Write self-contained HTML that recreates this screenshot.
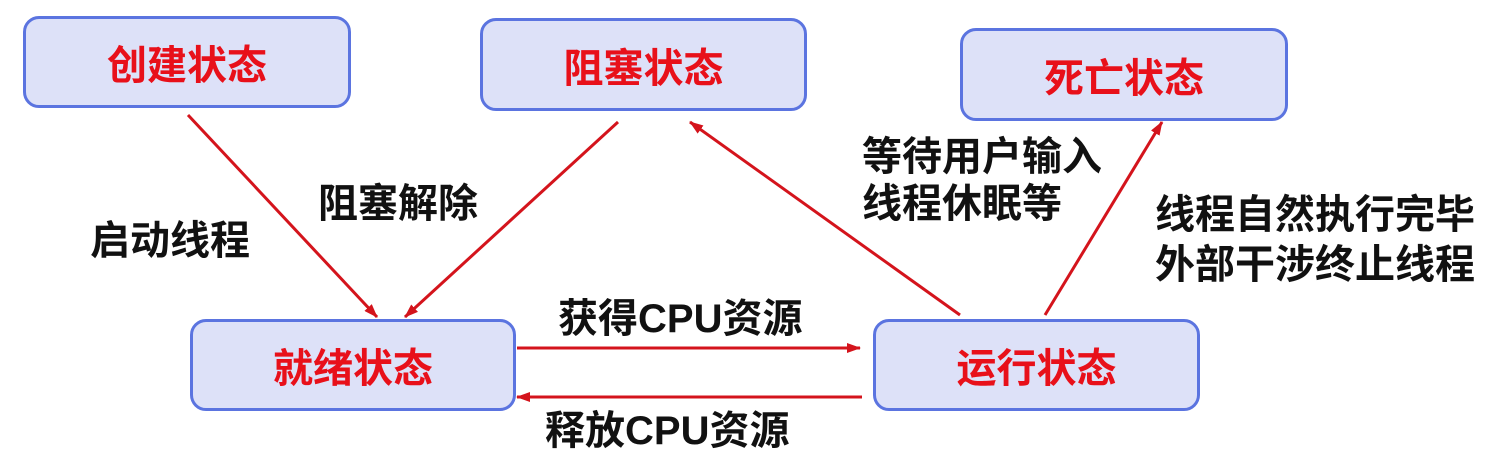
<!DOCTYPE html>
<html><head><meta charset="utf-8"><style>
body{margin:0;width:1511px;height:463px;background:#fff;position:relative;overflow:hidden;font-family:"Liberation Sans","Noto Sans CJK SC",sans-serif;}
.b{position:absolute;box-sizing:border-box;border:3px solid #5b74e0;border-radius:16px;background:#dde1f8;color:#e8101a;font-weight:bold;font-size:40px;display:flex;align-items:center;justify-content:center;}
.t{position:absolute;font-weight:bold;font-size:40px;color:#111;line-height:47px;white-space:nowrap;}
svg{position:absolute;left:0;top:0;}
</style></head><body>
<div class="b" style="left:23px;top:16px;width:328px;height:92px">创建状态</div>
<div class="b" style="left:480px;top:18px;width:327px;height:93px">阻塞状态</div>
<div class="b" style="left:960px;top:28px;width:328px;height:93px">死亡状态</div>
<div class="b" style="left:190px;top:319px;width:326px;height:92px">就绪状态</div>
<div class="b" style="left:873px;top:319px;width:327px;height:92px">运行状态</div>
<svg width="1511" height="463">
<defs><marker id="a" markerWidth="14" markerHeight="10" refX="13" refY="5" orient="auto" markerUnits="userSpaceOnUse"><path d="M0,0 L14,5 L0,10 z" fill="#d4141c"/></marker></defs>
<g stroke="#d4141c" stroke-width="3" fill="none" marker-end="url(#a)">
<line x1="188" y1="115" x2="377" y2="317"/>
<line x1="618" y1="122" x2="405" y2="317"/>
<line x1="960" y1="315" x2="690" y2="122"/>
<line x1="1045" y1="315" x2="1162" y2="122"/>
<line x1="517" y1="348" x2="860" y2="348"/>
<line x1="862" y1="397" x2="517" y2="397"/>
</g></svg>
<div class="t" style="left:90px;top:218px">启动线程</div>
<div class="t" style="left:318px;top:181px">阻塞解除</div>
<div class="t" style="left:558px;top:296px">获得CPU资源</div>
<div class="t" style="left:545px;top:408px">释放CPU资源</div>
<div class="t" style="left:862px;top:134px">等待用户输入<br>线程休眠等</div>
<div class="t" style="left:1155px;top:190px;line-height:50px">线程自然执行完毕<br>外部干涉终止线程</div>
</body></html>
